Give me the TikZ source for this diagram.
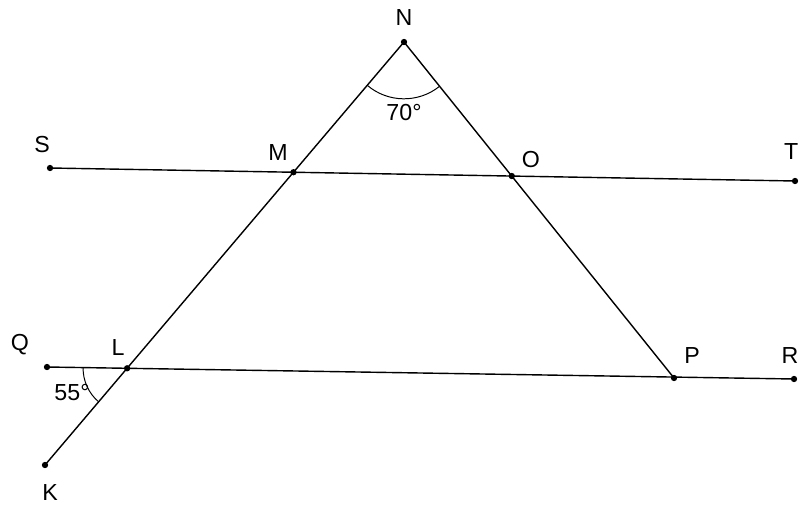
\documentclass[tikz,border=0pt]{standalone}
\usepackage{fontspec}
\setmainfont{Liberation Sans}
\usetikzlibrary{angles}
\begin{document}
\begin{tikzpicture}[
  x=0.025cm, y=0.025cm,
  every node/.style={font=\fontsize{16.5}{19}\selectfont},
  vertex/.style={circle, fill=black, inner sep=0pt, minimum size=4.5pt},
  seg/.style={draw, line width=1pt},
  arcline/.style={draw, line width=0.7pt}
]
\useasboundingbox (0,0) rectangle (800,508);
% points
\coordinate (N) at (404,466);
\coordinate (S) at (50,340);
\coordinate (T) at (795,327);
\coordinate (Q) at (47,141);
\coordinate (R) at (794,129);
\coordinate (K) at (45,43);
\coordinate (P) at (674,130);
\coordinate (M) at (intersection of S--T and K--N);
\coordinate (O) at (intersection of S--T and N--P);
\coordinate (L) at (intersection of Q--R and K--N);

% lines
\draw[seg] (S) -- (T);
\draw[seg] (Q) -- (R);
\draw[seg] (K) -- (N);
\draw[seg] (N) -- (P);

% angles
\pic[arcline, angle radius=1.42cm] {angle=K--N--P};
\pic[arcline, angle radius=1.1cm] {angle=Q--L--K};

\foreach \p in {N,S,T,Q,R,K,P,M,O,L}
  \node[vertex] at (\p) {};

% labels
\node (labN) at (404,490) {N};
\node (labS) at (42,363) {S};
\node (labM) at (278,355) {M};
\node (labO) at (531,348) {O};
\node[anchor=east, inner sep=1pt] (labT) at (800,356) {T};
\node (labQ) at (20,163) {Q};
\node (labL) at (118,160) {L};
\node (labP) at (692,152) {P};
\node (labR) at (790,152) {R};
\node (labK) at (50,15) {K};
\node (ang70) at (404,395) {70°};
\node (ang55) at (72,115) {55°};
\end{tikzpicture}
\end{document}
